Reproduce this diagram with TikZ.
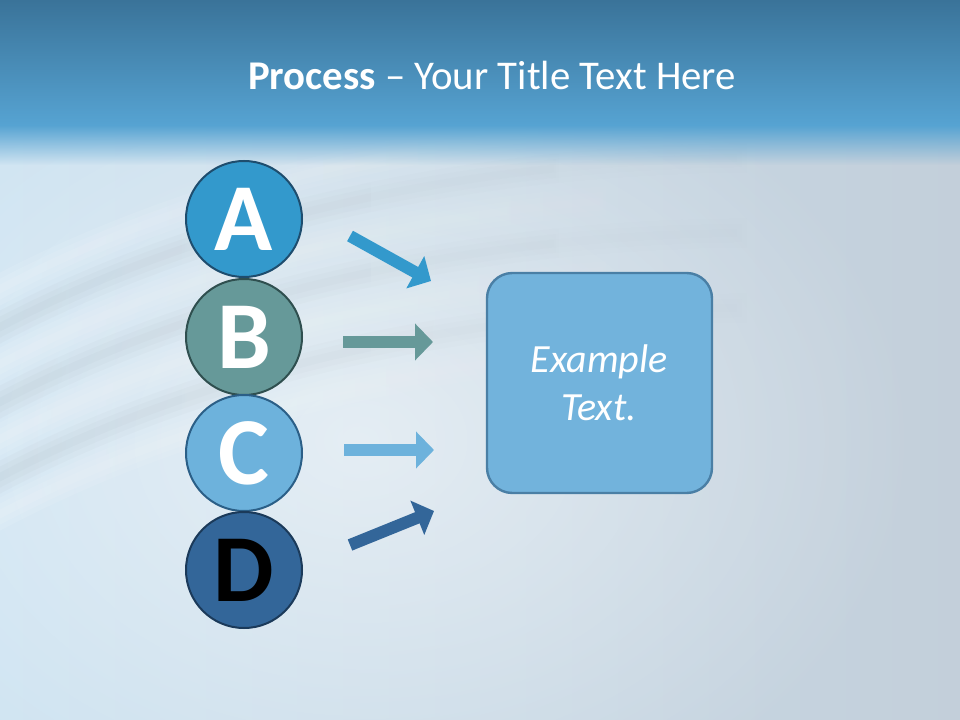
\documentclass[tikz,border=0pt]{standalone}
\usepackage{fontspec}
\setmainfont{Carlito}
\usetikzlibrary{arrows.meta,fadings}
\definecolor{bandtop}{HTML}{3A7399}
\definecolor{bandbot}{HTML}{56A3D2}
\definecolor{bgleft}{HTML}{CFE4F2}
\definecolor{bgright}{HTML}{C3CFDA}
\definecolor{fillA}{HTML}{3399CC}
\definecolor{lineA}{HTML}{1E4D6E}
\definecolor{fillB}{HTML}{669999}
\definecolor{lineB}{HTML}{2F4F4F}
\definecolor{fillC}{HTML}{6DB2DC}
\definecolor{lineC}{HTML}{2B5F87}
\definecolor{fillD}{HTML}{336699}
\definecolor{lineD}{HTML}{1B3A5A}
\definecolor{boxfill}{HTML}{72B3DC}
\definecolor{boxline}{HTML}{4A7FA5}
\tikzfading[name=glowfade, inner color=transparent!0, outer color=transparent!100]
\tikzset{
  letter/.style={circle, line width=1.5pt, minimum size=87pt, inner sep=0pt,
    font=\fontsize{72}{76}\selectfont\bfseries},
  pointer/.style={line width=9pt, -{Triangle[length=13.5pt,width=27pt]}},
  ripple/.style={opacity=0.1, path fading=east},
}

\begin{document}
\begin{tikzpicture}[x=0.75pt, y=-0.75pt]
			%%%%% START %%%%%
			\useasboundingbox (0, 0) rectangle (960, 720);
			
			\shade[left color=bgleft, right color=bgright] (0, 0) rectangle (960, 720);
			\fill[white, opacity=0.5, path fading=glowfade] (360, 440) ellipse (560 and 420);
			\foreach \y in {190, 265, 340, 415}
				\foreach \w in {6, 14, 22}
					\draw[white, ripple, line width=\w pt] (-20, \y + 110) .. controls (180, \y) and (450, \y - 70) .. (760, \y - 70);
			\foreach \y in {228, 303, 378}
				\foreach \w in {6, 14, 22}
					\draw[bgright!70!black, ripple, opacity=0.05, line width=\w pt] (-20, \y + 110) .. controls (180, \y) and (450, \y - 70) .. (760, \y - 70);
			
			\shade[top color=bandtop, bottom color=bandbot] (0, 0) rectangle (960, 125);
			\fill[bandbot, path fading=south] (0, 125) rectangle (960, 165);
			
			\node[white, font=\fontsize{30.6}{36}\selectfont] (title) at (492, 75) {\textbf{Process} -- Your Title Text Here};
			
			\node[letter, fill=fillA, draw=lineA, text=white] (A) at (244, 219) {A};
			\node[letter, fill=fillB, draw=lineB, text=white] (B) at (244, 337) {B};
			\node[letter, fill=fillC, draw=lineC, text=white] (C) at (244, 453) {C};
			\node[letter, fill=fillD, draw=lineD, text=black] (D) at (244, 570) {D};
			
			\draw[boxline, fill=boxfill, line width=1.8pt, rounded corners=19pt] (487, 273) rectangle (712, 493);
			\node[white, align=center, font=\fontsize{30}{36}\selectfont\itshape] (box) at (599, 383) {Example\\Text.};
			
			\coordinate (aT) at (350, 236);
			\coordinate (aH) at (431, 281);
			\coordinate (bT) at (343, 342);
			\coordinate (bH) at (433, 342);
			\coordinate (cT) at (344, 450);
			\coordinate (cH) at (434, 450);
			\coordinate (dT) at (350, 545);
			\coordinate (dH) at (434, 511);
			
			\draw[pointer, fillA] (aT) -- (aH);
			\draw[pointer, fillB] (bT) -- (bH);
			\draw[pointer, fillC] (cT) -- (cH);
			\draw[pointer, fillD] (dT) -- (dH);
			
			%%%%% END %%%%%
\end{tikzpicture}
\end{document}
